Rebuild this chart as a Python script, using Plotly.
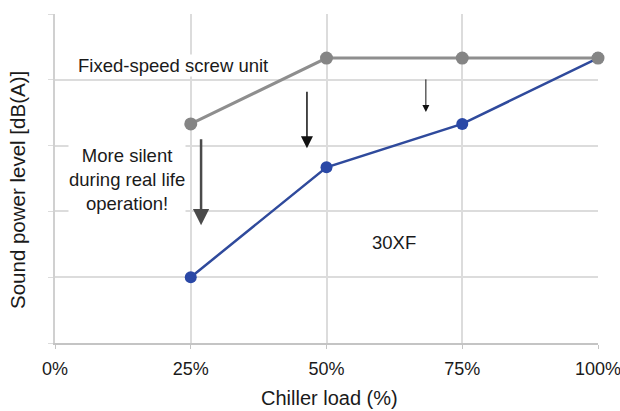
import plotly.graph_objects as go

# Data (arbitrary level units; the axis has no numeric labels)
load_pct = [25, 50, 75, 100]
fixed_speed_level = [3.33, 4.33, 4.33, 4.33]
xf30_level = [1.0, 2.67, 3.33, 4.33]
x_ticks = [0, 25, 50, 75, 100]
x_tick_labels = ["0%", "25%", "50%", "75%", "100%"]

FONT = "Liberation Sans, Arial, sans-serif"
TXT = "#1a1a1a"

W, H = 620, 411
L, R, T, B = 55, 22, 14, 68
PW, PH = W - L - R, H - T - B

fig = go.Figure()
fig.add_trace(go.Scatter(
    x=load_pct, y=xf30_level, mode="lines+markers",
    line=dict(color="#2f4a9c", width=2.5),
    marker=dict(color="#2a48a6", size=12),
    showlegend=False, cliponaxis=False,
))
fig.add_trace(go.Scatter(
    x=load_pct, y=fixed_speed_level, mode="lines+markers",
    line=dict(color="#8e8e8e", width=3),
    marker=dict(color="#858585", size=13),
    showlegend=False, cliponaxis=False,
))

annotations = [
    dict(x=21.7, y=4.21, text="Fixed-speed screw unit", showarrow=False,
         font=dict(size=18.5, color=TXT, family=FONT), bgcolor="white", borderpad=0),
    dict(x=13.3, y=2.49, text="More silent<br>during real life<br>operation!", showarrow=False,
         font=dict(size=18.5, color=TXT, family=FONT), bgcolor="white", borderpad=0),
    dict(x=62.5, y=1.52, text="30XF", showarrow=False,
         font=dict(size=18.5, color=TXT, family=FONT)),
    # arrows
    dict(x=26.9, y=1.79, ax=26.9, ay=3.12, xref="x", yref="y", axref="x", ayref="y",
         showarrow=True, arrowhead=2, arrowsize=1.3, arrowwidth=2.5, arrowcolor="#4a4a4a", text=""),
    dict(x=46.4, y=2.96, ax=46.4, ay=3.84, xref="x", yref="y", axref="x", ayref="y",
         showarrow=True, arrowhead=2, arrowsize=1.6, arrowwidth=1.5, arrowcolor="#111111", text=""),
    dict(x=68.3, y=3.51, ax=68.3, ay=4.03, xref="x", yref="y", axref="x", ayref="y",
         showarrow=True, arrowhead=2, arrowsize=1.4, arrowwidth=1.0, arrowcolor="#111111", text=""),
    # axis titles
    dict(x=(329 - L) / PW, xref="paper", y=-(398 - (H - B)) / PH, yref="paper",
         text="Chiller load (%)", showarrow=False, yanchor="middle", xanchor="center",
         font=dict(size=20, color=TXT, family=FONT)),
    dict(x=-(L - 17) / PW, xref="paper", y=(H - B - 190) / PH, yref="paper",
         text="Sound power level [dB(A)]", textangle=-90, showarrow=False,
         yanchor="middle", xanchor="center", font=dict(size=20.5, color=TXT, family=FONT)),
]

fig.update_layout(
    annotations=annotations,
    width=W, height=H,
    margin=dict(l=L, r=R, t=T, b=B, autoexpand=False),
    paper_bgcolor="white", plot_bgcolor="white",
    font=dict(family=FONT, color=TXT),
    xaxis=dict(range=[0, 100], tickvals=x_ticks, ticktext=x_tick_labels,
               showgrid=True, gridcolor="#dcdcdc", gridwidth=1.5,
               showline=True, linecolor="#c4c4c4", linewidth=1.5,
               ticks="outside", ticklen=4, tickcolor="#c4c4c4",
               tickfont=dict(size=18, color=TXT), ticklabelstandoff=5,
               ticklabeloverflow="allow",
               zeroline=False, fixedrange=True),
    yaxis=dict(range=[0, 5], dtick=1, showticklabels=False,
               showgrid=True, gridcolor="#dcdcdc", gridwidth=1.5,
               showline=True, linecolor="#d0d0d0", linewidth=1.5,
               ticks="outside", ticklen=5, tickcolor="#dcdcdc",
               zeroline=False, fixedrange=True),
)

fig.write_html("out.html", config={"displayModeBar": False},
               post_script="document.body.style.margin='0';document.body.style.padding='0';")
